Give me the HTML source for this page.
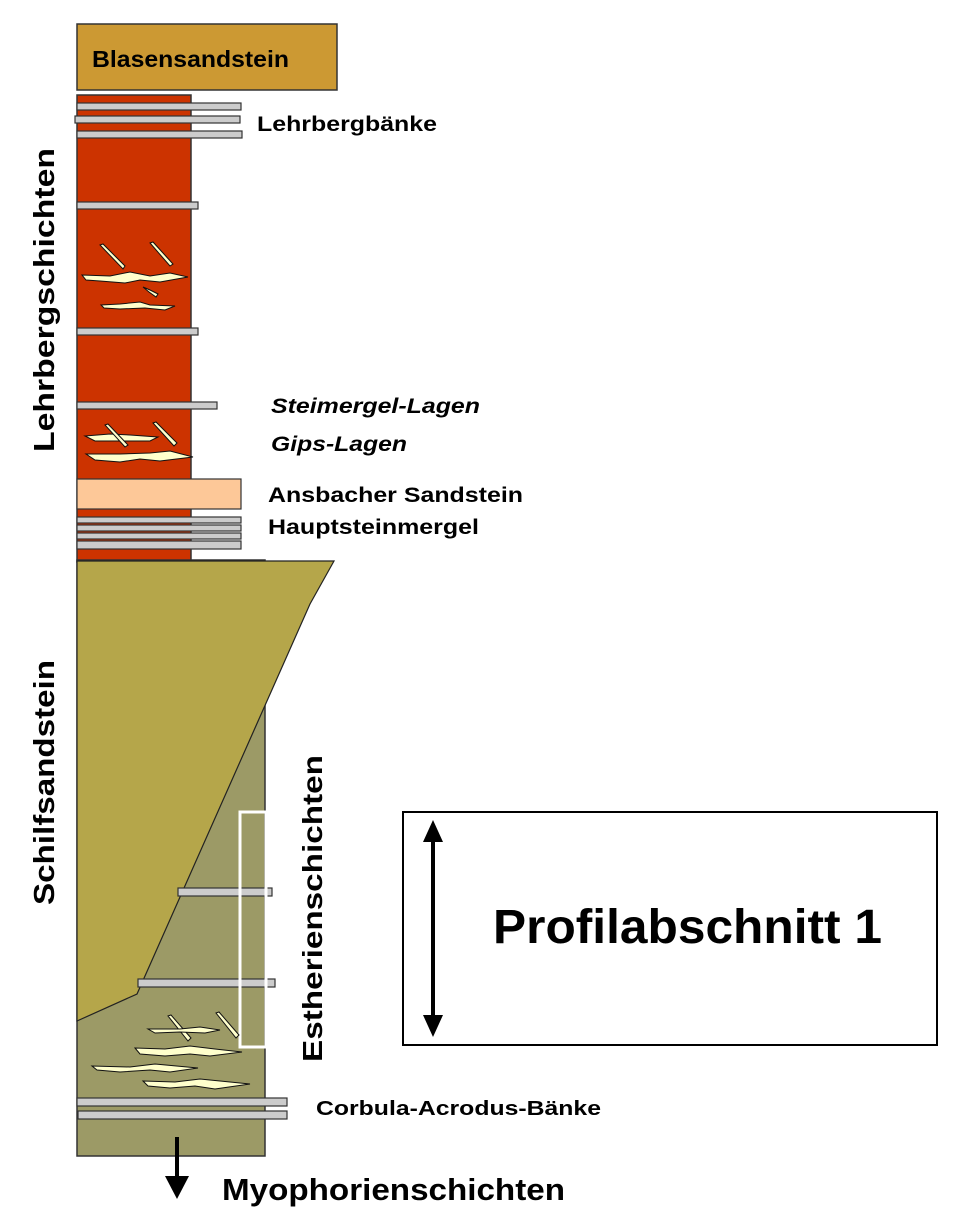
<!DOCTYPE html>
<html><head><meta charset="utf-8"><style>
html,body{margin:0;padding:0;background:#fff;}
svg{display:block;font-family:"Liberation Sans",Arial,sans-serif;font-weight:bold;}
</style></head><body>
<svg width="959" height="1228" viewBox="0 0 959 1228" xmlns="http://www.w3.org/2000/svg">
<!-- Blasensandstein -->
<rect x="77" y="24" width="260" height="66" fill="#cc9933" stroke="#333" stroke-width="1.5"/>
<text x="92" y="67" font-size="23" textLength="197" lengthAdjust="spacingAndGlyphs">Blasensandstein</text>

<!-- red column -->
<rect x="77" y="95" width="114" height="467" fill="#cc3300" stroke="#333" stroke-width="1.5"/>
<g fill="#cccccc" stroke="#333" stroke-width="1.2">
<rect x="77" y="103" width="164" height="7"/>
<rect x="75" y="116" width="165" height="7"/>
<rect x="77" y="131" width="165" height="7"/>
<rect x="77" y="202" width="121" height="7"/>
<rect x="77" y="328" width="121" height="7"/>
<rect x="77" y="402" width="140" height="7"/>
<rect x="77" y="517" width="164" height="6"/>
<rect x="77" y="525" width="164" height="6"/>
<rect x="77" y="533" width="164" height="6"/>
<rect x="77" y="541" width="164" height="8"/>
</g>
<rect x="77" y="479" width="164" height="30" fill="#fdc898" stroke="#333" stroke-width="1.2"/>

<!-- olive column -->
<rect x="77" y="560" width="188" height="596" fill="#9c9a66" stroke="#333" stroke-width="1.5"/>
<polygon points="77,561 334,561 310,604 137,994 77,1021" fill="#b5a64a" stroke="#222" stroke-width="1.2"/>
<g fill="#cccccc" stroke="#333" stroke-width="1.2">
<rect x="178" y="888" width="94" height="8"/>
<rect x="138" y="979" width="137" height="8"/>
<rect x="77" y="1098" width="210" height="8"/>
<rect x="78" y="1111" width="209" height="8"/>
</g>
<rect x="240" y="812" width="26" height="235" fill="none" stroke="#fff" stroke-width="3"/>

<!-- gypsum lenses -->
<g fill="#ffffcc" stroke="#111" stroke-width="1">
<polygon points="100,245 103,244 125,266 123,269"/>
<polygon points="150,243 153,242 173,264 170,266"/>
<polygon points="82,275 110,276 130,272 150,276 170,273 188,277 160,282 140,280 125,283 100,281 86,280"/>
<polygon points="143,287 150,290 158,294 156,297 149,292"/>
<polygon points="101,305 120,304 140,302 150,305 175,306 165,310 145,308 120,309 104,308"/>
<polygon points="85,436 110,434 130,435 158,437 150,441 120,441 95,441"/>
<polygon points="105,425 108,424 128,445 125,447"/>
<polygon points="153,423 156,422 177,443 174,446"/>
<polygon points="86,454 120,454 150,453 170,451 193,457 160,461 140,459 120,462 95,460"/>
<polygon points="168,1016 171,1015 191,1038 188,1041"/>
<polygon points="216,1013 219,1012 239,1035 236,1038"/>
<polygon points="148,1029 180,1029 200,1027 220,1030 205,1033 180,1032 155,1033"/>
<polygon points="135,1048 165,1049 190,1046 215,1049 242,1052 210,1056 190,1054 165,1056 140,1054"/>
<polygon points="92,1066 130,1067 155,1064 198,1068 170,1072 150,1070 120,1072 97,1070"/>
<polygon points="143,1081 175,1082 200,1079 250,1084 215,1089 195,1086 170,1088 148,1086"/>
</g>

<!-- down arrow -->
<line x1="177" y1="1137" x2="177" y2="1183" stroke="#000" stroke-width="4"/>
<polygon points="165,1176 189,1176 177,1199" fill="#000"/>

<!-- labels -->
<text x="257" y="131" font-size="21" textLength="180" lengthAdjust="spacingAndGlyphs">Lehrbergbänke</text>
<text x="271" y="413" font-size="21" font-style="italic" textLength="209" lengthAdjust="spacingAndGlyphs">Steimergel-Lagen</text>
<text x="271" y="451" font-size="21" font-style="italic" textLength="136" lengthAdjust="spacingAndGlyphs">Gips-Lagen</text>
<text x="268" y="502" font-size="21" textLength="255" lengthAdjust="spacingAndGlyphs">Ansbacher Sandstein</text>
<text x="268" y="534" font-size="21" textLength="211" lengthAdjust="spacingAndGlyphs">Hauptsteinmergel</text>
<text x="316" y="1115" font-size="20" textLength="285" lengthAdjust="spacingAndGlyphs">Corbula-Acrodus-Bänke</text>
<text x="222" y="1200" font-size="31" textLength="343" lengthAdjust="spacingAndGlyphs">Myophorienschichten</text>
<text transform="translate(54,452) rotate(-90)" font-size="29" textLength="304" lengthAdjust="spacingAndGlyphs">Lehrbergschichten</text>
<text transform="translate(54,905) rotate(-90)" font-size="29" textLength="245" lengthAdjust="spacingAndGlyphs">Schilfsandstein</text>
<text transform="translate(322,1062) rotate(-90)" font-size="28" textLength="307" lengthAdjust="spacingAndGlyphs">Estherienschichten</text>

<!-- box -->
<rect x="403" y="812" width="534" height="233" fill="#fff" stroke="#000" stroke-width="2"/>
<line x1="433" y1="835" x2="433" y2="1022" stroke="#000" stroke-width="4"/>
<polygon points="423,842 443,842 433,820" fill="#000"/>
<polygon points="423,1015 443,1015 433,1037" fill="#000"/>
<text x="493" y="943" font-size="48" textLength="389" lengthAdjust="spacingAndGlyphs">Profilabschnitt 1</text>
</svg>
</body></html>
